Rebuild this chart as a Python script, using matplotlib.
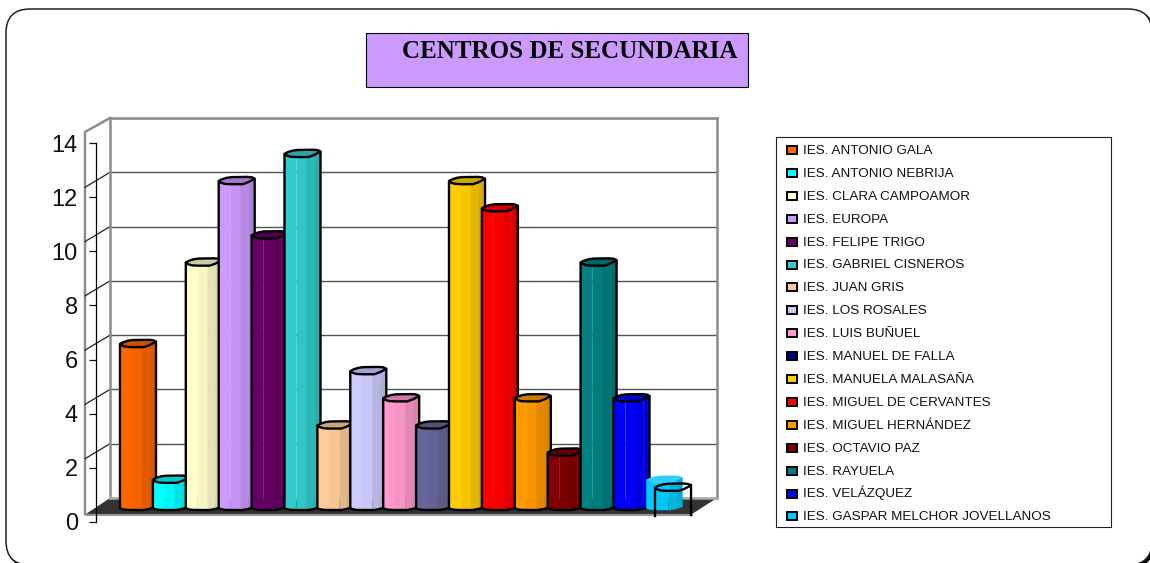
import numpy as np
import matplotlib
matplotlib.use("Agg")
import matplotlib.pyplot as plt
from matplotlib.patches import FancyBboxPatch, Polygon, Rectangle
from matplotlib.colors import to_rgb

centros = ["IES. ANTONIO GALA", "IES. ANTONIO NEBRIJA", "IES. CLARA CAMPOAMOR", "IES. EUROPA",
           "IES. FELIPE TRIGO", "IES. GABRIEL CISNEROS", "IES. JUAN GRIS", "IES. LOS ROSALES",
           "IES. LUIS BUÑUEL", "IES. MANUEL DE FALLA", "IES. MANUELA MALASAÑA",
           "IES. MIGUEL DE CERVANTES", "IES. MIGUEL HERNÁNDEZ", "IES. OCTAVIO PAZ",
           "IES. RAYUELA", "IES. VELÁZQUEZ", "IES. GASPAR MELCHOR JOVELLANOS"]
valores = [6, 1, 9, 12, 10, 13, 3, 5, 4, 3, 12, 11, 4, 2, 9, 4, 1]
colores = ["#FF6600", "#00FFFF", "#FFFFCC", "#CC99FF", "#660066", "#33CCCC", "#FFCC99", "#CCCCFF",
           "#FF99CC", "#666699", "#FFCC00", "#FF0000", "#FF9900", "#800000", "#008080", "#0000FF", "#00CCFF"]
colores_leyenda = colores[:9] + ["#000080"] + colores[10:]
titulo = "CENTROS DE SECUNDARIA"
marcas = list(range(0, 15, 2))

W, H = 1150, 563
plt.rcParams['font.family'] = ['Liberation Sans', 'DejaVu Sans']
fig = plt.figure(figsize=(W / 100, H / 100), dpi=100, facecolor="white")

def axes_px(x0, x1, ytop, ybot, z):
    a = fig.add_axes([x0 / W, 1 - ybot / H, (x1 - x0) / W, (ybot - ytop) / H], zorder=z)
    a.patch.set_visible(False)
    return a

# chrome in pixel coordinates
bg = axes_px(0, W, 0, H, 0)
bg.set_xlim(0, W); bg.set_ylim(H, 0); bg.axis("off")
bg.add_patch(FancyBboxPatch((8, 11), 1146, 556, boxstyle="round,pad=0,rounding_size=24",
                            fc="black", ec="black", lw=1, zorder=0))
bg.add_patch(FancyBboxPatch((6, 9), 1146, 556, boxstyle="round,pad=0,rounding_size=24",
                            fc="white", ec="#222222", lw=1.1, zorder=1))
bg.add_patch(Rectangle((366, 33), 382, 54, fc="#CC99FF", ec="black", lw=0.8, zorder=2))
bg.text(569.5, 52, titulo, family="Liberation Serif", weight="bold", fontsize=18,
        ha="center", va="center", color="black", zorder=3)
# floor and left wall
gris = "#8C8C8C"
bg.add_patch(Polygon([(86, 514), (110, 498), (717, 498), (692, 514)], fc="#333333", ec="none", zorder=2))
bg.plot([86, 692], [514.5, 514.5], color="#999999", lw=1.5, zorder=2)
bg.plot([85, 85, 110], [514, 132, 118], color=gris, lw=1.8, zorder=2, solid_joinstyle="miter")

# back wall, values on its own scale
back = axes_px(110, 717, 118, 498, 1)
back.set_xlim(0, 1); back.set_ylim(0, 14)
back.set_xticks([]); back.set_yticks(marcas)
back.tick_params(left=False, labelleft=False)
back.grid(axis="y", color="#555555", lw=1.0)
for s in back.spines.values():
    s.set_color(gris); s.set_linewidth(1.8)
back.spines["bottom"].set_color("#AAAAAA")

# slanted grid on the left wall
for m in marcas[1:-1]:
    yb = 498 - m * (380 / 14)
    bg.plot([85, 110], [yb + 15, yb], color="#222222", lw=0.9, zorder=2)

# value axis
val = axes_px(96, 98, 143, 522, 2)
val.set_xlim(0, 1); val.set_ylim(0, 14)
val.set_xticks([]); val.set_yticks(marcas)
val.tick_params(axis="y", length=5, width=0.9, pad=8, labelsize=17, colors="#111111")
for n in ("top", "right", "bottom"):
    val.spines[n].set_visible(False)
val.spines["left"].set_linewidth(0.9)

# cylinders: x is the category index, y the value
x0 = 138; paso = 32.9; y0 = 510; esc = 27.15
ax = axes_px(x0 - paso / 2, x0 + 16.5 * paso, y0 - 14 * esc, y0, 3)
ax.set_xlim(-0.5, 16.5); ax.set_ylim(0, 14); ax.axis("off")
ux, uy = 1 / paso, 1 / esc
ANCHO = 36
fx = np.array([0, 2, 6, 12, 24, 29, 33, 36.0]); fy = np.array([3.2, 1.6, 0.3, 0, 0, 1.8, 3.8, 5.6])
bx = np.array([0, 3, 8, 13, 29, 33, 36.0]); by = np.array([3.2, 4.8, 6.4, 7.1, 7.3, 6.9, 5.6])
BASE = 0.55
bandas = [(0, 12, 1.0), (12, 22, 0.965), (22, 30, 0.89), (30, 36, 0.85)]

def oscuro(c, f):
    return tuple(min(1, v * f) for v in to_rgb(c))

def perfil(i, v, xs, ys, dx=0, dy=0):
    return np.column_stack([i + (xs - ANCHO / 2 + dx) * ux, v + (ys - dy) * uy])

for i, (v, c) in enumerate(zip(valores, colores)):
    ultimo = i == len(valores) - 1
    for a, b, f in bandas:
        xs = np.r_[a, fx[(fx > a) & (fx < b)], b]
        ys = np.interp(xs, fx, fy)
        pts = np.vstack([perfil(i, v, xs, ys), perfil(i, 0, xs, ys * BASE)[::-1]])
        ax.add_patch(Polygon(pts, fc=oscuro(c, f), ec=oscuro(c, f), lw=0.3, zorder=10 + i))
    top = np.vstack([perfil(i, v, fx, fy), perfil(i, v, bx, by)[::-1]])
    if ultimo:
        ax.add_patch(Polygon(top, fc="#33CCFF", ec="none", zorder=10 + i))
        # hollow outline displaced from the last cylinder
        ax.add_patch(Polygon(np.vstack([perfil(i, v, fx, fy, 8.5, 8), perfil(i, v, bx, by, 8.5, 8)[::-1]]),
                             fc="none", ec="black", lw=1.7, zorder=40, joinstyle="round"))
        izq = perfil(i, v, fx[:1], fy[:1], 8.5, 8)[0]; der = perfil(i, v, fx[-1:], fy[-1:], 8.5, 8)[0]
        ax.plot([izq[0], izq[0]], [izq[1], perfil(i, 0, fx[:1], fy[:1] * BASE, 8.5, 8)[0][1]], color="black", lw=1.7, zorder=40, clip_on=False)
        ax.plot([der[0], der[0]], [der[1], perfil(i, 0, fx[-1:], fy[-1:] * BASE, 8.5, 8)[0][1]], color="black", lw=1.7, zorder=40, clip_on=False)
    else:
        ax.add_patch(Polygon(top, fc=oscuro(c, 0.8), ec="black", lw=1.7, zorder=10 + i, joinstyle="round"))
        cuerpo = np.vstack([perfil(i, v, fx[:1], fy[:1]), perfil(i, 0, fx, fy * BASE), perfil(i, v, fx[-1:], fy[-1:])])
        ax.add_patch(Polygon(cuerpo, closed=False, fc="none", ec="black", lw=1.7, zorder=10 + i, joinstyle="round"))
for p in ax.patches:
    p.set_clip_on(False)

# legend, with even rows
bg.add_patch(Rectangle((776, 137), 335, 390, fc="white", ec="#222222", lw=0.8, zorder=2))
fila0, fila = 149.5, 22.9
for k, (nombre, c) in enumerate(zip(centros, colores_leyenda)):
    yc = fila0 + k * fila
    bg.add_patch(Rectangle((787, yc - 3.5), 10, 8, fc=c, ec="black", lw=1.4, zorder=4))
    bg.text(803, yc + 4.5, nombre, fontsize=9.7, color="#111111", ha="left", va="baseline", zorder=5)
fig.savefig("out.png", dpi=100)
